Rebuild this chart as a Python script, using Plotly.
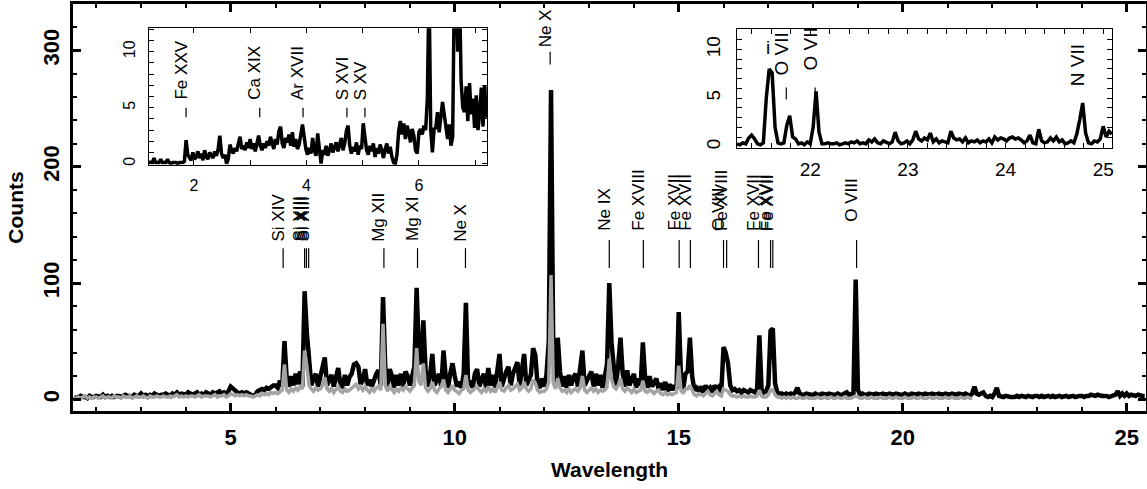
import numpy as np
import plotly.graph_objects as go

# ---------------- data ----------------
# Main spectrum: counts per 0.05 A bin, starting at 1.50 A
MAIN_START = 1.50
MAIN_STEP = 0.05
BLACK_COUNTS = [
    2, 1, 2, 3, 2, 2, 1, 3, 2, 2,        # 1.50
    3, 2, 2, 4, 2, 3, 2, 3, 2, 3,        # 2.00
    3, 2, 3, 4, 3, 3, 2, 4, 3, 3,        # 2.50
    5, 3, 4, 3, 4, 3, 5, 4, 3, 4,        # 3.00
    4, 5, 4, 3, 5, 4, 6, 4, 5, 4,        # 3.50
    4, 6, 5, 4, 5, 6, 4, 5, 4, 6,        # 4.00
    5, 4, 6, 5, 6, 7, 5, 6, 5, 7,        # 4.50
    11, 9, 7, 6, 5, 6, 5, 6, 5, 4,       # 5.00
    3, 4, 7, 8, 9, 8, 10, 9, 11, 12,     # 5.50
    12, 10, 16, 11, 50, 18, 11, 20, 12, 22,   # 6.00
    13, 24, 11, 93, 57, 30, 12, 18, 22, 11,   # 6.50
    20, 30, 36, 12, 17, 21, 11, 20, 27, 12,   # 7.00
    11, 21, 12, 19, 22, 30, 31, 28, 13, 17,   # 7.50
    26, 12, 17, 11, 18, 22, 25, 12, 88, 28,   # 8.00
    11, 26, 20, 10, 21, 12, 22, 11, 24, 20,   # 8.50
    12, 22, 28, 96, 40, 30, 68, 25, 11, 21,   # 9.00
    39, 12, 17, 22, 11, 42, 19, 10, 22, 31,   # 9.50
    20, 11, 15, 10, 22, 83, 12, 16, 10, 22,   # 10.00
    26, 11, 17, 22, 10, 27, 12, 21, 10, 22,   # 10.50
    39, 11, 18, 24, 28, 12, 22, 26, 32, 12,   # 11.00
    24, 39, 12, 18, 21, 44, 38, 12, 10, 18,   # 11.50
    11, 22, 50, 266, 40, 12, 53, 24, 11, 20,  # 12.00
    10, 21, 12, 19, 22, 11, 24, 42, 12, 17,   # 12.50
    20, 24, 11, 22, 12, 21, 10, 20, 30, 100,  # 13.00
    49, 28, 12, 30, 53, 22, 11, 25, 12, 17,   # 13.50
    22, 10, 18, 12, 49, 18, 10, 20, 11, 14,   # 14.00
    18, 9, 14, 8, 15, 7, 13, 8, 12, 9,        # 14.50
    75, 20, 9, 22, 24, 53, 20, 8, 10, 7,      # 15.00
    11, 6, 12, 8, 10, 6, 12, 9, 11, 6,        # 15.50
    45, 40, 31, 12, 8, 9, 7, 8, 6, 8,         # 16.00
    7, 6, 8, 7, 6, 9, 55, 8, 6, 7,            # 16.50
    12, 59, 61, 14, 6, 5, 5, 4, 5, 4,         # 17.00
    5, 4, 6, 10, 5, 4, 4, 5, 4, 4,           # 17.50
    4, 5, 4, 4, 5, 4, 4, 5, 4, 4,            # 18.00
    4, 5, 4, 4, 5, 6, 4, 5, 5, 103,          # 18.50
    8, 4, 5, 4, 4, 5, 4, 4, 5, 4,            # 19.00
    4, 5, 4, 4, 5, 4, 4, 5, 4, 4,            # 19.50
    4, 5, 4, 4, 5, 4, 4, 5, 4, 4,            # 20.00
    5, 4, 4, 5, 4, 4, 5, 4, 4, 5,            # 20.50
    4, 4, 5, 4, 4, 5, 4, 4, 5, 4,            # 21.00
    3, 5, 11, 5, 4, 5, 6, 3, 2, 3,           # 21.50
    2, 5, 10, 3, 2, 2, 3, 2, 2, 2,           # 22.00
    2, 3, 2, 3, 2, 2, 3, 2, 2, 3,            # 22.50
    3, 2, 3, 2, 3, 3, 2, 3, 2, 3,            # 23.00
    3, 2, 3, 3, 2, 3, 3, 2, 3, 3,            # 23.50
    3, 2, 3, 3, 4, 3, 3, 4, 3, 3,            # 24.00
    3, 3, 2, 3, 3, 4, 7, 3, 5, 3,            # 24.50
    5, 3, 4, 3, 3, 4, 3, 3, 3,               # 25.00
]
GREY_COUNTS = [
    1, 1, 2, 1, 2, 3, 1, 2, 1, 2,        # 1.50
    2, 1, 2, 3, 1, 2, 2, 1, 3, 2,        # 2.00
    2, 1, 3, 2, 2, 3, 1, 2, 3, 2,        # 2.50
    2, 3, 2, 1, 3, 2, 2, 3, 2, 2,        # 3.00
    3, 2, 2, 3, 2, 3, 4, 2, 3, 2,        # 3.50
    3, 2, 3, 3, 2, 3, 4, 2, 3, 3,        # 4.00
    3, 2, 3, 4, 2, 3, 3, 4, 2, 3,        # 4.50
    5, 4, 3, 4, 3, 4, 3, 4, 3, 3,        # 5.00
    2, 3, 4, 3, 5, 4, 5, 4, 6, 5,        # 5.50
    6, 5, 7, 8, 30, 8, 6, 9, 7, 10,      # 6.00
    8, 11, 9, 42, 29, 12, 9, 7, 10, 8,   # 6.50
    9, 12, 19, 9, 7, 10, 6, 8, 11, 7,    # 7.00
    6, 9, 7, 8, 10, 12, 13, 9, 11, 8,    # 7.50
    11, 8, 6, 9, 7, 10, 11, 8, 65, 12,   # 8.00
    7, 11, 8, 6, 9, 7, 10, 8, 11, 9,     # 8.50
    7, 10, 12, 44, 16, 12, 31, 10, 7, 9, # 9.00
    15, 8, 6, 9, 11, 17, 8, 6, 9, 12,    # 9.50
    8, 6, 5, 8, 9, 21, 8, 6, 8, 10,      # 10.00
    11, 8, 6, 9, 7, 11, 7, 9, 6, 10,     # 10.50
    15, 8, 7, 10, 12, 8, 9, 11, 13, 8,   # 11.00
    10, 15, 9, 7, 9, 17, 14, 8, 6, 7,    # 11.50
    7, 9, 15, 107, 14, 9, 18, 10, 7, 8,  # 12.00
    6, 9, 6, 8, 9, 7, 10, 20, 8, 6,      # 12.50
    8, 10, 7, 9, 6, 8, 7, 8, 11, 35,     # 13.00
    17, 11, 9, 12, 18, 9, 7, 10, 8, 6,   # 13.50
    9, 6, 7, 8, 16, 7, 6, 8, 7, 5,       # 14.00
    7, 8, 5, 4, 6, 4, 5, 4, 5, 6,        # 14.50
    29, 8, 5, 9, 9, 12, 8, 4, 3, 5,      # 15.00
    4, 3, 5, 7, 4, 3, 5, 7, 4, 3,        # 15.50
    9, 8, 7, 4, 3, 3, 2, 3, 2, 3,        # 16.00
    2, 2, 3, 2, 2, 3, 8, 3, 2, 2,        # 16.50
    4, 8, 8, 4, 2, 2, 1, 2, 1, 2,        # 17.00
    1, 2, 1, 1, 2, 1, 1, 2, 1, 1,        # 17.50
    1, 1, 2, 1, 1, 2, 1, 1, 2, 1,        # 18.00
    1, 2, 1, 1, 2, 1, 1, 1, 2, 3,        # 18.50
    2, 1, 1, 2, 1, 1, 2, 1, 1, 1,        # 19.00
    2, 1, 1, 1, 2, 1, 1, 2, 1, 1,        # 19.50
    1, 2, 1, 1, 1, 2, 1, 1, 2, 1,        # 20.00
    1, 1, 2, 1, 1, 2, 1, 1, 1, 2,        # 20.50
    1, 1, 2, 1, 1, 1, 2, 1, 1, 2,        # 21.00
    1, 1,                                # 21.50
]

# Short-wavelength inset: counts per 0.03 A bin, starting at 1.20 A
LEFT_INSET_START = 1.20
LEFT_INSET_STEP = 0.03
LEFT_INSET_COUNTS = [
    0.2, 0.1, 0.1, 0.5, 0.1, 0.1, 0.1, 0.4, 0.1, 0.1,   # 1.20
    0.1, 0.4, 0.1, 0.0, 0.1, 0.1, 0.1, 0.0, 0.1, 0.1,   # 1.50
    0.1, 0.2, 2.1, 0.8, 0.5, 0.3, 1.0, 0.4, 0.6, 1.1,   # 1.80
    0.5, 0.9, 0.3, 1.2, 0.6, 0.4, 1.0, 0.8, 0.5, 1.1,   # 2.10
    0.7, 1.3, 2.5, 0.9, 0.5, 0.8, 0.0, 0.4, 1.7, 1.2,   # 2.40
    0.9, 1.4, 1.1, 1.8, 2.4, 1.3, 1.6, 1.2, 1.9, 1.4,   # 2.70
    2.2, 1.3, 1.8, 1.1, 2.0, 2.5, 1.6, 1.2, 1.8, 1.4,   # 3.00
    2.0, 1.6, 2.4, 1.9, 1.3, 2.2, 1.7, 2.9, 3.3, 1.8,   # 3.30
    1.4, 2.3, 1.9, 2.6, 1.6, 2.8, 1.5, 2.2, 1.3, 1.7,   # 3.60
    2.6, 3.5, 2.4, 1.3, 0.8, 1.4, 0.9, 2.3, 1.2, 0.7,   # 3.90
    2.7, 1.1, 0.0, 1.2, 0.8, 1.6, 0.7, 1.2, 1.8, 1.0,   # 4.20
    1.4, 1.9, 1.1, 1.7, 2.3, 1.2, 1.8, 2.9, 3.4, 1.6,   # 4.50
    0.9, 1.5, 1.1, 1.9, 0.8, 1.6, 1.3, 3.6, 2.4, 1.2,   # 4.80
    0.8, 1.6, 1.1, 1.8, 0.6, 1.4, 0.9, 1.7, 1.2, 0.5,   # 5.10
    1.3, 1.8, 0.9, 1.5, 0.6, 0.1, 0.0, 0.8, 2.9, 3.8,   # 5.40
    2.6, 3.6, 2.2, 3.4, 2.8, 1.9, 3.1, 2.5, 1.2, 0.9,   # 5.70
    2.8, 3.1, 2.6, 3.4, 3.0, 5.8, 16.0, 3.0, 1.0, 3.1,  # 6.00
    3.2, 4.6, 2.8, 3.9, 5.5, 4.4, 3.1, 2.2, 3.5, 1.6,   # 6.30
    2.4, 16.0, 16.0, 10.0, 16.0, 7.4, 5.0, 4.6, 6.9, 3.8,  # 6.60
    7.2, 4.4, 5.8, 3.2, 6.1, 3.0, 4.5, 6.8, 3.3, 7.0,   # 6.90
    4.1,                                                # 7.20
]

# Long-wavelength inset: counts per 0.03 A bin, starting at 21.25 A
RIGHT_INSET_START = 21.25
RIGHT_INSET_STEP = 0.03
RIGHT_INSET_COUNTS = [
    0.3, 0.2, 0.4, 0.3, 0.9, 1.2, 0.8, 0.3, 0.2, 0.4,   # 21.25
    5.0, 8.0, 7.6, 2.0, 0.4, 0.3, 0.4, 2.2, 3.2, 1.0,   # 21.55
    0.8, 0.3, 0.4, 0.2, 0.5, 0.3, 2.0, 5.7, 1.5, 0.3,   # 21.85
    0.3, 0.4, 0.3, 0.3, 0.4, 0.2, 0.3, 0.4, 0.3, 0.5,   # 22.15
    0.4, 0.6, 0.3, 0.4, 0.3, 0.7, 0.5, 0.8, 0.4, 0.3,   # 22.45
    0.6, 0.4, 0.3, 0.5, 1.5, 0.6, 0.3, 0.4, 0.6, 0.3,   # 22.75
    0.7, 1.6, 0.8, 0.6, 0.9, 0.7, 1.4, 0.5, 0.8, 0.4,   # 23.05
    0.6, 0.5, 0.4, 1.6, 0.9, 0.7, 0.8, 0.5, 0.9, 0.4,   # 23.35
    0.6, 0.5, 0.7, 0.4, 0.6, 0.5, 0.8, 0.4, 1.0, 0.7,   # 23.65
    0.9, 0.8, 0.6, 0.9, 1.0, 0.8, 0.9, 0.7, 0.4, 0.6,   # 23.95
    1.2, 0.4, 0.3, 1.8, 0.6, 0.4, 0.5, 0.9, 0.6, 1.0,   # 24.25
    0.5, 0.7, 0.3, 0.4, 0.6, 0.4, 1.3, 2.8, 4.5, 1.4,   # 24.55
    0.4, 0.3, 0.6, 0.5, 0.8, 2.1, 1.0, 1.6, 1.3,        # 24.85
]

# Line identifications
MAIN_LINE_NAMES = ["Si XIV", "Si XIII", "Si XIII", "Si XIII", "Mg XII", "Mg XI",
                   "Ne X", "Ne X", "Ne IX", "Fe XVIII", "Fe XVII", "Fe XVII",
                   "O VIII", "Fe XVIII", "Fe XVII", "Fe XVII", "Fe XVII", "O VIII"]
MAIN_LINE_WAVES = [6.17, 6.65, 6.69, 6.74, 8.42, 9.17,
                   10.24, 12.13, 13.45, 14.21, 15.01, 15.26,
                   16.00, 16.07, 16.78, 17.05, 17.10, 18.97]
LEFT_LINE_NAMES = ["Fe XXV", "Ca XIX", "Ar XVII", "S XVI", "S XV"]
LEFT_LINE_WAVES = [1.86, 3.17, 3.94, 4.72, 5.04]
RIGHT_LINE_NAMES = ["O VII", "O VII", "N VII"]
RIGHT_LINE_WAVES = [21.755, 22.05, 24.79]

# ---------------- placement / style (not data) ----------------
# (marker bottom, marker top, text bottom) in counts, for each main label
MAIN_LABEL_POS = ([(113, 130, 135)] * 7 + [(288, 299, 302)] +
                  [(113, 137, 144)] * 9 + [(113, 137, 152)])
LEFT_LABEL_POS = [(4.15, 5.0, 5.6)] * 5
RIGHT_LABEL_POS = [(4.85, 6.1, 7.2), (4.85, 6.1, 7.7), (None, None, 6.1)]

FONT = "Liberation Sans"
BLACK = "black"
GREY = "#a3a3a3"

x_main_black = np.round(MAIN_START + MAIN_STEP * np.arange(len(BLACK_COUNTS)), 3)
x_main_grey = np.round(MAIN_START + MAIN_STEP * np.arange(len(GREY_COUNTS)), 3)
x_left = np.round(LEFT_INSET_START + LEFT_INSET_STEP * np.arange(len(LEFT_INSET_COUNTS)), 3)
x_right = np.round(RIGHT_INSET_START + RIGHT_INSET_STEP * np.arange(len(RIGHT_INSET_COUNTS)), 3)

fig = go.Figure()
fig.add_trace(go.Scatter(x=x_main_black, y=BLACK_COUNTS, mode="lines",
                         line=dict(color=BLACK, width=4.5), xaxis="x", yaxis="y",
                         name="total", showlegend=False))
fig.add_trace(go.Scatter(x=x_main_grey, y=GREY_COUNTS, mode="lines",
                         line=dict(color=GREY, width=3.5), xaxis="x", yaxis="y",
                         name="component", showlegend=False))
fig.add_trace(go.Scatter(x=x_left, y=LEFT_INSET_COUNTS, mode="lines",
                         line=dict(color=BLACK, width=3.5), xaxis="x2", yaxis="y2",
                         showlegend=False))
fig.add_trace(go.Scatter(x=x_right, y=RIGHT_INSET_COUNTS, mode="lines",
                         line=dict(color=BLACK, width=3.5), xaxis="x3", yaxis="y3",
                         showlegend=False))

annotations = []
shapes = []


def add_labels(names, waves, positions, xref, yref, size, xshift=-5):
    for name, w, (y0, y1, ty) in zip(names, waves, positions):
        if y0 is not None:
            shapes.append(dict(type="line", xref=xref, yref=yref, x0=w, x1=w, y0=y0, y1=y1,
                               line=dict(color=BLACK, width=1.2)))
        annotations.append(dict(x=w, y=ty, xref=xref, yref=yref, text=name, textangle=-90,
                                showarrow=False, xanchor="center", yanchor="bottom",
                                xshift=xshift, borderpad=0,
                                font=dict(family=FONT, size=size, color=BLACK)))


add_labels(MAIN_LINE_NAMES, MAIN_LINE_WAVES, MAIN_LABEL_POS, "x", "y", 17)
add_labels(LEFT_LINE_NAMES, LEFT_LINE_WAVES, LEFT_LABEL_POS, "x2", "y2", 17)
add_labels(RIGHT_LINE_NAMES, RIGHT_LINE_WAVES, RIGHT_LABEL_POS, "x3", "y3", 19)
annotations.append(dict(x=21.565, y=10.2, xref="x3", yref="y3", text="i", showarrow=False,
                        xanchor="center", yanchor="middle",
                        font=dict(family=FONT, size=19, color=BLACK)))

bold_tick = dict(family=FONT, size=22, color=BLACK, weight="bold")
inset_axis = dict(showline=True, linewidth=1.3, linecolor=BLACK, mirror="ticks",
                  ticks="inside", ticklen=5, tickwidth=1.2, tickcolor=BLACK,
                  showgrid=False, zeroline=False, automargin=False)

fig.update_layout(
    width=1147, height=489,
    margin=dict(l=73, r=1, t=4, b=78),
    paper_bgcolor="white", plot_bgcolor="white",
    showlegend=False,
    xaxis=dict(range=[1.48, 25.43], domain=[0, 1], anchor="y", automargin=False,
               showline=True, linewidth=3, linecolor=BLACK, mirror="ticks",
               ticks="inside", ticklen=8, tickwidth=2.5, tickcolor=BLACK,
               tickvals=[5, 10, 15, 20, 25],
               minor=dict(dtick=1, tick0=0, ticks="inside", ticklen=4, tickwidth=2, tickcolor=BLACK),
               showgrid=False, zeroline=False, tickfont=bold_tick, ticklabelstandoff=5,
               title=dict(text="Wavelength", font=dict(family=FONT, size=21, color=BLACK, weight="bold"),
                          standoff=13)),
    yaxis=dict(range=[-10, 340], domain=[0, 1], anchor="x", automargin=False,
               showline=True, linewidth=3, linecolor=BLACK, mirror="ticks",
               ticks="inside", ticklen=8, tickwidth=2.5, tickcolor=BLACK,
               tickvals=[0, 100, 200, 300], tickangle=-90,
               minor=dict(dtick=20, tick0=0, ticks="inside", ticklen=4, tickwidth=2, tickcolor=BLACK),
               showgrid=False, zeroline=False, tickfont=bold_tick, ticklabelstandoff=2,
               title=dict(text="Counts", font=dict(family=FONT, size=21, color=BLACK, weight="bold"),
                          standoff=10)),
    xaxis2=dict(range=[1.2, 7.21], domain=[0.0708, 0.3858], anchor="y2",
                tickvals=[2, 3, 4, 5, 6, 7], ticktext=["2", "", "4", "", "6", ""],
                tickfont=dict(family=FONT, size=16, color=BLACK), ticklabelstandoff=6,
                **inset_axis),
    yaxis2=dict(range=[-0.1, 12.1], domain=[0.605, 0.9407], anchor="x2",
                tickvals=list(range(0, 13)),
                ticktext=[str(v) if v % 5 == 0 else "" for v in range(0, 13)],
                tickangle=-90, tickfont=dict(family=FONT, size=16, color=BLACK),
                ticklabelstandoff=6, **inset_axis),
    xaxis3=dict(range=[21.25, 25.09], domain=[0.6188, 0.9683], anchor="y3",
                tickvals=[round(21.4 + 0.2 * k, 1) for k in range(19)],
                ticktext=[str(int(round(21.4 + 0.2 * k))) if abs((21.4 + 0.2 * k) - round(21.4 + 0.2 * k)) < 1e-6 else ""
                          for k in range(19)],
                tickfont=dict(family=FONT, size=19, color=BLACK), ticklabelstandoff=4,
                **inset_axis),
    yaxis3=dict(range=[-0.1, 12.1], domain=[0.6469, 0.9383], anchor="x3",
                tickvals=list(range(0, 13)),
                ticktext=[str(v) if v % 5 == 0 else "" for v in range(0, 13)],
                tickangle=-90, tickfont=dict(family=FONT, size=19, color=BLACK),
                ticklabelstandoff=8, **inset_axis),
    annotations=annotations,
    shapes=shapes,
)

fig.write_html("out.html")
